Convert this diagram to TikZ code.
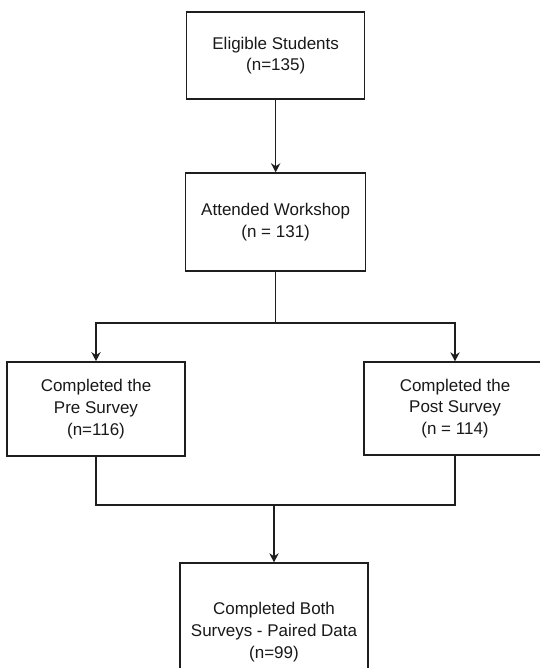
\documentclass[tikz,border=0pt]{standalone}
\usepackage{fontspec}
\setmainfont{Liberation Sans}
\usetikzlibrary{arrows.meta,positioning,calc}
\definecolor{flowink}{RGB}{30,30,30}
\definecolor{textink}{RGB}{25,25,25}
\tikzset{
  stagebox/.style={draw=flowink, line width=1.2pt, fill=white, align=center,
                   inner sep=0pt, font=\fontsize{14.5}{18.5}\selectfont, text=textink},
  flow/.style={-{Stealth[length=2.7mm,width=2.8mm]}, line width=1.1pt, draw=flowink},
  link/.style={line width=1.1pt, draw=flowink},
}

\begin{document}
\begin{tikzpicture}
    \useasboundingbox (0,0) rectangle (16.17,-20.04);
    % stages of the study
    \node[stagebox, minimum width=5.34cm, minimum height=2.61cm] (elig) at (8.27,-1.665) {Eligible Students\\(n=135)};
    \node[stagebox, minimum width=5.40cm, minimum height=2.94cm] (att) at (8.27,-6.66) {Attended Workshop\\(n = 131)};
    \node[stagebox, minimum width=5.34cm, minimum height=2.83cm] (pre) at (2.88,-12.27) {Completed the\\Pre Survey\\(n=116)};
    \node[stagebox, minimum width=5.46cm, minimum height=2.79cm] (post) at (13.65,-12.255) {Completed the\\Post Survey\\(n = 114)};
    \node[stagebox, minimum width=5.64cm, minimum height=4.14cm] (both) at (8.22,-18.96) {Completed Both\\Surveys - Paired Data\\(n=99)};
    % branch and merge points
    \coordinate (split) at (att.south |- 0,-9.69);
    \coordinate (merge) at (both.north |- 0,-15.15);
    \draw[flow] (elig) -- (att);
    \draw[link] (att.south) -- (split);
    \draw[flow] (split) -| (pre.north);
    \draw[flow] (split) -| (post.north);
    \draw[link] (pre.south) |- (merge) -| (post.south);
    \draw[flow] (merge) -- (both.north);
  \end{tikzpicture}
\end{document}
